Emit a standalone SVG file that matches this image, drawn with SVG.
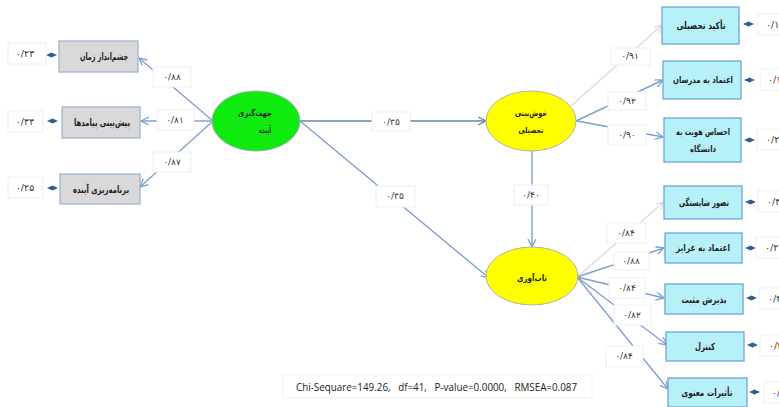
<svg xmlns="http://www.w3.org/2000/svg" width="779" height="407" viewBox="0 0 779 407">
<style>
.fa{font-family:"DejaVu Sans",sans-serif;font-weight:bold;text-anchor:middle;fill:#222}
.bx{font-size:10px}
.lb{font-size:9px;font-weight:normal;fill:#333}
.er{font-size:9.5px;font-weight:normal;fill:#333}
.lbox{fill:#fff;stroke:#efefef;stroke-width:1}
.gbox{fill:#d9d9d9;stroke:#9fb6cf;stroke-width:1.3}
.cbox{fill:#b6f1f9;stroke:#6fa5d6;stroke-width:1.3}
.ln{stroke:#7fa0cf;stroke-width:1.4;fill:none;marker-end:url(#ah)}
.lg{stroke:#dcdcdc;stroke-width:1.4;fill:none;marker-end:url(#ahg)}
.dh{fill:#2f5f95}
</style>
<defs>
<marker id="ah" markerWidth="10" markerHeight="10" refX="8" refY="4" orient="auto" markerUnits="userSpaceOnUse">
<path d="M0,0 L8,4 L0,8" fill="none" stroke="#7fa0cf" stroke-width="1.3"/>
</marker>
<marker id="ahd" markerWidth="10" markerHeight="10" refX="8" refY="4" orient="auto" markerUnits="userSpaceOnUse">
<path d="M0,0 L8,4 L0,8" fill="none" stroke="#6a84a8" stroke-width="1.3"/>
</marker>
<marker id="ahg" markerWidth="10" markerHeight="10" refX="8" refY="4" orient="auto" markerUnits="userSpaceOnUse">
<path d="M0,0 L8,4 L0,8" fill="none" stroke="#dcdcdc" stroke-width="1.3"/>
</marker>
</defs>
<rect width="779" height="407" fill="#fff"/>

<g id="connectors">
<line class="ln" x1="213" y1="121" x2="139" y2="58"/>
<line class="ln" x1="212" y1="121" x2="141" y2="121"/>
<line class="ln" x1="213" y1="121" x2="140" y2="187"/>
<line x1="300" y1="121" x2="486" y2="121" stroke="#6a84a8" stroke-width="1.6" marker-end="url(#ahd)"/>
<line class="ln" x1="300" y1="121" x2="489" y2="278"/>
<line class="ln" x1="532" y1="151" x2="532" y2="247"/>
<line class="lg" x1="571" y1="106" x2="662" y2="25"/>
<line class="ln" x1="576" y1="121" x2="663" y2="80"/>
<line class="ln" x1="577" y1="121" x2="663" y2="137"/>
<line class="lg" x1="577" y1="277" x2="664" y2="202"/>
<line class="ln" x1="577" y1="277" x2="664" y2="248"/>
<line class="ln" x1="577" y1="277" x2="664" y2="298"/>
<line class="ln" x1="577" y1="277" x2="667" y2="345"/>
<line class="ln" x1="577" y1="277" x2="668" y2="389"/>
<path class="dh" d="M46,55 L51.5,52.5 L57,55 L51.5,57.5 Z"/>
<path class="dh" d="M47,121 L52.5,118.5 L58,121 L52.5,123.5 Z"/>
<path class="dh" d="M47,188 L52.5,185.5 L58,188 L52.5,190.5 Z"/>
<path class="dh" d="M743,24 L748.5,21.5 L754,24 L748.5,26.5 Z"/>
<path class="dh" d="M744,80 L749.5,77.5 L755,80 L749.5,82.5 Z"/>
<path class="dh" d="M744,140 L749.5,137.5 L755,140 L749.5,142.5 Z"/>
<path class="dh" d="M745,202 L750.5,199.5 L756,202 L750.5,204.5 Z"/>
<path class="dh" d="M745,248 L750.5,245.5 L756,248 L750.5,250.5 Z"/>
<path class="dh" d="M746,298 L751.5,295.5 L757,298 L751.5,300.5 Z"/>
<path class="dh" d="M747,345 L752.5,342.5 L758,345 L752.5,347.5 Z"/>
<path class="dh" d="M749,392 L754.5,389.5 L760,392 L754.5,394.5 Z"/>
</g>

<g id="labels">
<rect class="lbox" x="153" y="67" width="38" height="20"/><text class="fa lb" x="172" y="80">۰/۸۸</text>
<rect class="lbox" x="157" y="110" width="37" height="20"/><text class="fa lb" x="175" y="123">۰/۸۱</text>
<rect class="lbox" x="153" y="152" width="38" height="20"/><text class="fa lb" x="172" y="165">۰/۸۷</text>
<rect class="lbox" x="372" y="112" width="38" height="19"/><text class="fa lb" x="391" y="125">۰/۳۵</text>
<rect class="lbox" x="376" y="186" width="39" height="21"/><text class="fa lb" x="395" y="199">۰/۳۵</text>
<rect class="lbox" x="514" y="185" width="34" height="20"/><text class="fa lb" x="531" y="198">۰/۴۰</text>
<rect class="lbox" x="611" y="48" width="39" height="17"/><text class="fa lb" x="630" y="59">۰/۹۱</text>
<rect class="lbox" x="608" y="92" width="38" height="18"/><text class="fa lb" x="627" y="104">۰/۹۲</text>
<rect class="lbox" x="608" y="125" width="38" height="20"/><text class="fa lb" x="627" y="138">۰/۹۰</text>
<rect class="lbox" x="607" y="223" width="39" height="20"/><text class="fa lb" x="626" y="236">۰/۸۴</text>
<rect class="lbox" x="614" y="252" width="35" height="18"/><text class="fa lb" x="631" y="264">۰/۸۸</text>
<rect class="lbox" x="609" y="278" width="36" height="20"/><text class="fa lb" x="627" y="291">۰/۸۴</text>
<rect class="lbox" x="614" y="305" width="37" height="20"/><text class="fa lb" x="632" y="318">۰/۸۲</text>
<rect class="lbox" x="606" y="346" width="37" height="21"/><text class="fa lb" x="624" y="359">۰/۸۴</text>
</g>

<g id="errors">
<rect class="lbox" x="8" y="43" width="38" height="21"/><text class="fa er" x="25" y="57">۰/۲۳</text>
<rect class="lbox" x="8" y="111" width="35" height="21"/><text class="fa er" x="25" y="125">۰/۳۴</text>
<rect class="lbox" x="8" y="177" width="35" height="21"/><text class="fa er" x="25" y="191">۰/۲۵</text>
<rect class="lbox" x="758" y="14" width="30" height="21"/><text class="fa er" x="766" y="28" style="text-anchor:start">۰/۱۷</text>
<rect class="lbox" x="760" y="69" width="30" height="21"/><text class="fa er" x="768" y="83" style="text-anchor:start">۰/۱</text>
<rect class="lbox" x="757" y="129" width="30" height="21"/><text class="fa er" x="766" y="143" style="text-anchor:start">۰/۲۰</text>
<rect class="lbox" x="758" y="191" width="30" height="21"/><text class="fa er" x="767" y="205" style="text-anchor:start">۰/۳</text>
<rect class="lbox" x="756" y="237" width="30" height="21"/><text class="fa er" x="765" y="251" style="text-anchor:start">۰/۲۲</text>
<rect class="lbox" x="759" y="288" width="30" height="21"/><text class="fa er" x="768" y="302" style="text-anchor:start">۰/۳</text>
<rect class="lbox" x="760" y="335" width="30" height="21"/><text class="fa er" x="769" y="349" style="text-anchor:start">۰/۲</text>
<rect class="lbox" x="764" y="382" width="30" height="21"/><text class="fa er" x="772" y="396" style="text-anchor:start">۰/</text>
</g>

<g id="n-cheshmandaz"><rect class="gbox" x="59" y="41" width="79" height="31"/><text class="fa bx" x="104" y="60" textLength="48" lengthAdjust="spacingAndGlyphs">چشم‌انداز زمان</text></g>
<g id="n-pishbini"><rect class="gbox" x="62" y="107" width="78" height="31"/><text class="fa bx" x="102" y="126" textLength="56" lengthAdjust="spacingAndGlyphs">پیش‌بینی پیامدها</text></g>
<g id="n-barnamerizi"><rect class="gbox" x="60" y="174" width="80" height="30"/><text class="fa bx" x="101" y="193" textLength="56" lengthAdjust="spacingAndGlyphs">برنامه‌ریزی آینده</text></g>

<g id="n-jahatgiri"><ellipse cx="256" cy="121" rx="44" ry="30" fill="#0fea0f" stroke="#8fb4a0" stroke-width="1"/>
<text class="fa" font-size="8.5" x="255" y="116" textLength="34" lengthAdjust="spacingAndGlyphs">جهت‌گیری</text><text class="fa" font-size="8.5" x="265" y="133" textLength="12" lengthAdjust="spacingAndGlyphs">آینده</text></g>
<g id="n-khoshbini"><ellipse cx="531" cy="121" rx="45" ry="30" fill="#ffff00" stroke="#b0b3a0" stroke-width="1"/>
<text class="fa" font-size="8.5" x="531" y="116" textLength="32" lengthAdjust="spacingAndGlyphs">خوش‌بینی</text><text class="fa" font-size="8.5" x="531" y="133" textLength="25" lengthAdjust="spacingAndGlyphs">تحصیلی</text></g>
<g id="n-tabavari"><ellipse cx="532" cy="276" rx="46" ry="29" fill="#ffff00" stroke="#b0b3a0" stroke-width="1"/>
<text class="fa" font-size="9" x="532" y="281" textLength="30" lengthAdjust="spacingAndGlyphs">تاب‌آوری</text></g>

<g id="n-takid"><rect class="cbox" x="662" y="7" width="77" height="37"/><text class="fa bx" x="701" y="29" textLength="49" lengthAdjust="spacingAndGlyphs">تأکید تحصیلی</text></g>
<g id="n-etemad-modaresan"><rect class="cbox" x="663" y="61" width="78" height="38"/><text class="fa" font-size="9" x="703" y="83" textLength="60" lengthAdjust="spacingAndGlyphs">اعتماد به مدرسان</text></g>
<g id="n-hoviat"><rect class="cbox" x="664" y="118" width="77" height="44"/><text class="fa" font-size="9" x="703" y="135" textLength="54" lengthAdjust="spacingAndGlyphs">احساس هویت به</text><text class="fa" font-size="9" x="703" y="152" textLength="26" lengthAdjust="spacingAndGlyphs">دانشگاه</text></g>
<g id="n-shayestegi"><rect class="cbox" x="664" y="186" width="78" height="33"/><text class="fa bx" x="704" y="206" textLength="50" lengthAdjust="spacingAndGlyphs">تصور شایستگی</text></g>
<g id="n-gharayez"><rect class="cbox" x="665" y="233" width="77" height="30"/><text class="fa" font-size="9" x="703" y="251" textLength="54" lengthAdjust="spacingAndGlyphs">اعتماد به غرایز</text></g>
<g id="n-paziresh"><rect class="cbox" x="665" y="284" width="78" height="30"/><text class="fa bx" x="704" y="303" textLength="45" lengthAdjust="spacingAndGlyphs">پذیرش مثبت</text></g>
<g id="n-kontrol"><rect class="cbox" x="666" y="332" width="78" height="29"/><text class="fa bx" x="705" y="350" textLength="20" lengthAdjust="spacingAndGlyphs">کنترل</text></g>
<g id="n-tasirat"><rect class="cbox" x="668" y="378" width="79" height="29"/><text class="fa bx" x="707" y="396" textLength="51" lengthAdjust="spacingAndGlyphs">تأثیرات معنوی</text></g>

<g id="fit">
<rect x="283" y="375" width="309" height="23" fill="#fff" stroke="#f2f2f2"/>
<text x="296" y="391" font-family="'Open Sans','Liberation Sans',sans-serif" font-size="10" fill="#222" xml:space="preserve" textLength="281" lengthAdjust="spacingAndGlyphs">Chi-Sequare=149.26,   df=41,   P-value=0.0000,   RMSEA=0.087</text>
</g>
</svg>
